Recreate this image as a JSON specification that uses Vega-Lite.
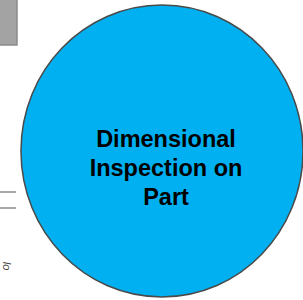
{
  "$schema": "https://vega.github.io/schema/vega-lite/v6.json",
  "width": 303,
  "height": 300,
  "autosize": {"type": "none"},
  "padding": 0,
  "background": "white",
  "view": {"stroke": null},
  "datasets": {
    "circle": [{"x": 162, "y": 151, "label": "Dimensional\nInspection on\nPart"}],
    "box": [{"x1": -2, "x2": 17, "y1": -2, "y2": 45}],
    "lines": [{"x1": 0, "x2": 16, "y": 192}, {"x1": 0, "x2": 16, "y": 208}],
    "frag": [{"x": 6, "y": 266, "t": "lo"}]
  },
  "layer": [
    {
      "data": {"name": "box"},
      "mark": {"type": "rect", "fill": "#a3a3a3", "stroke": "#8a8a8a", "strokeWidth": 1.5},
      "encoding": {
        "x": {"field": "x1", "type": "quantitative", "scale": {"domain": [0, 303], "range": [0, 303], "zero": false, "nice": false}, "axis": null},
        "x2": {"field": "x2"},
        "y": {"field": "y1", "type": "quantitative", "scale": {"domain": [0, 300], "range": [0, 300], "zero": false, "nice": false}, "axis": null},
        "y2": {"field": "y2"}
      }
    },
    {
      "data": {"name": "lines"},
      "mark": {"type": "rule", "stroke": "#555555", "strokeWidth": 1},
      "encoding": {
        "x": {"field": "x1", "type": "quantitative", "scale": {"domain": [0, 303], "range": [0, 303], "zero": false, "nice": false}, "axis": null},
        "x2": {"field": "x2"},
        "y": {"field": "y", "type": "quantitative", "scale": {"domain": [0, 300], "range": [0, 300], "zero": false, "nice": false}, "axis": null}
      }
    },
    {
      "data": {"name": "frag"},
      "mark": {"type": "text", "angle": 90, "fontSize": 11, "fontStyle": "italic", "font": "Liberation Sans", "fill": "#444444", "align": "center", "baseline": "middle"},
      "encoding": {
        "x": {"field": "x", "type": "quantitative", "scale": {"domain": [0, 303], "range": [0, 303], "zero": false, "nice": false}, "axis": null},
        "y": {"field": "y", "type": "quantitative", "scale": {"domain": [0, 300], "range": [0, 300], "zero": false, "nice": false}, "axis": null},
        "text": {"field": "t"}
      }
    },
    {
      "data": {"name": "circle"},
      "mark": {
        "type": "point",
        "filled": true,
        "shape": "M-0.966,0A0.966,1 0 1,1 0.966,0A0.966,1 0 1,1 -0.966,0Z",
        "size": 85264,
        "fill": "#00b0f0",
        "fillOpacity": 1,
        "stroke": "#4a4a4a",
        "strokeWidth": 1.5,
        "strokeOpacity": 1,
        "opacity": 1
      },
      "encoding": {
        "x": {"field": "x", "type": "quantitative", "scale": {"domain": [0, 303], "range": [0, 303], "zero": false, "nice": false}, "axis": null},
        "y": {"field": "y", "type": "quantitative", "scale": {"domain": [0, 300], "range": [0, 300], "zero": false, "nice": false}, "axis": null}
      }
    },
    {
      "data": {"name": "circle"},
      "mark": {"type": "text", "font": "Liberation Sans", "fontWeight": "bold", "fontSize": 23.5, "fill": "#000000", "align": "center", "baseline": "alphabetic", "lineBreak": "\n", "lineHeight": 29, "dx": 4, "dy": -4.5},
      "encoding": {
        "x": {"field": "x", "type": "quantitative", "scale": {"domain": [0, 303], "range": [0, 303], "zero": false, "nice": false}, "axis": null},
        "y": {"field": "y", "type": "quantitative", "scale": {"domain": [0, 300], "range": [0, 300], "zero": false, "nice": false}, "axis": null},
        "text": {"field": "label"}
      }
    }
  ]
}
